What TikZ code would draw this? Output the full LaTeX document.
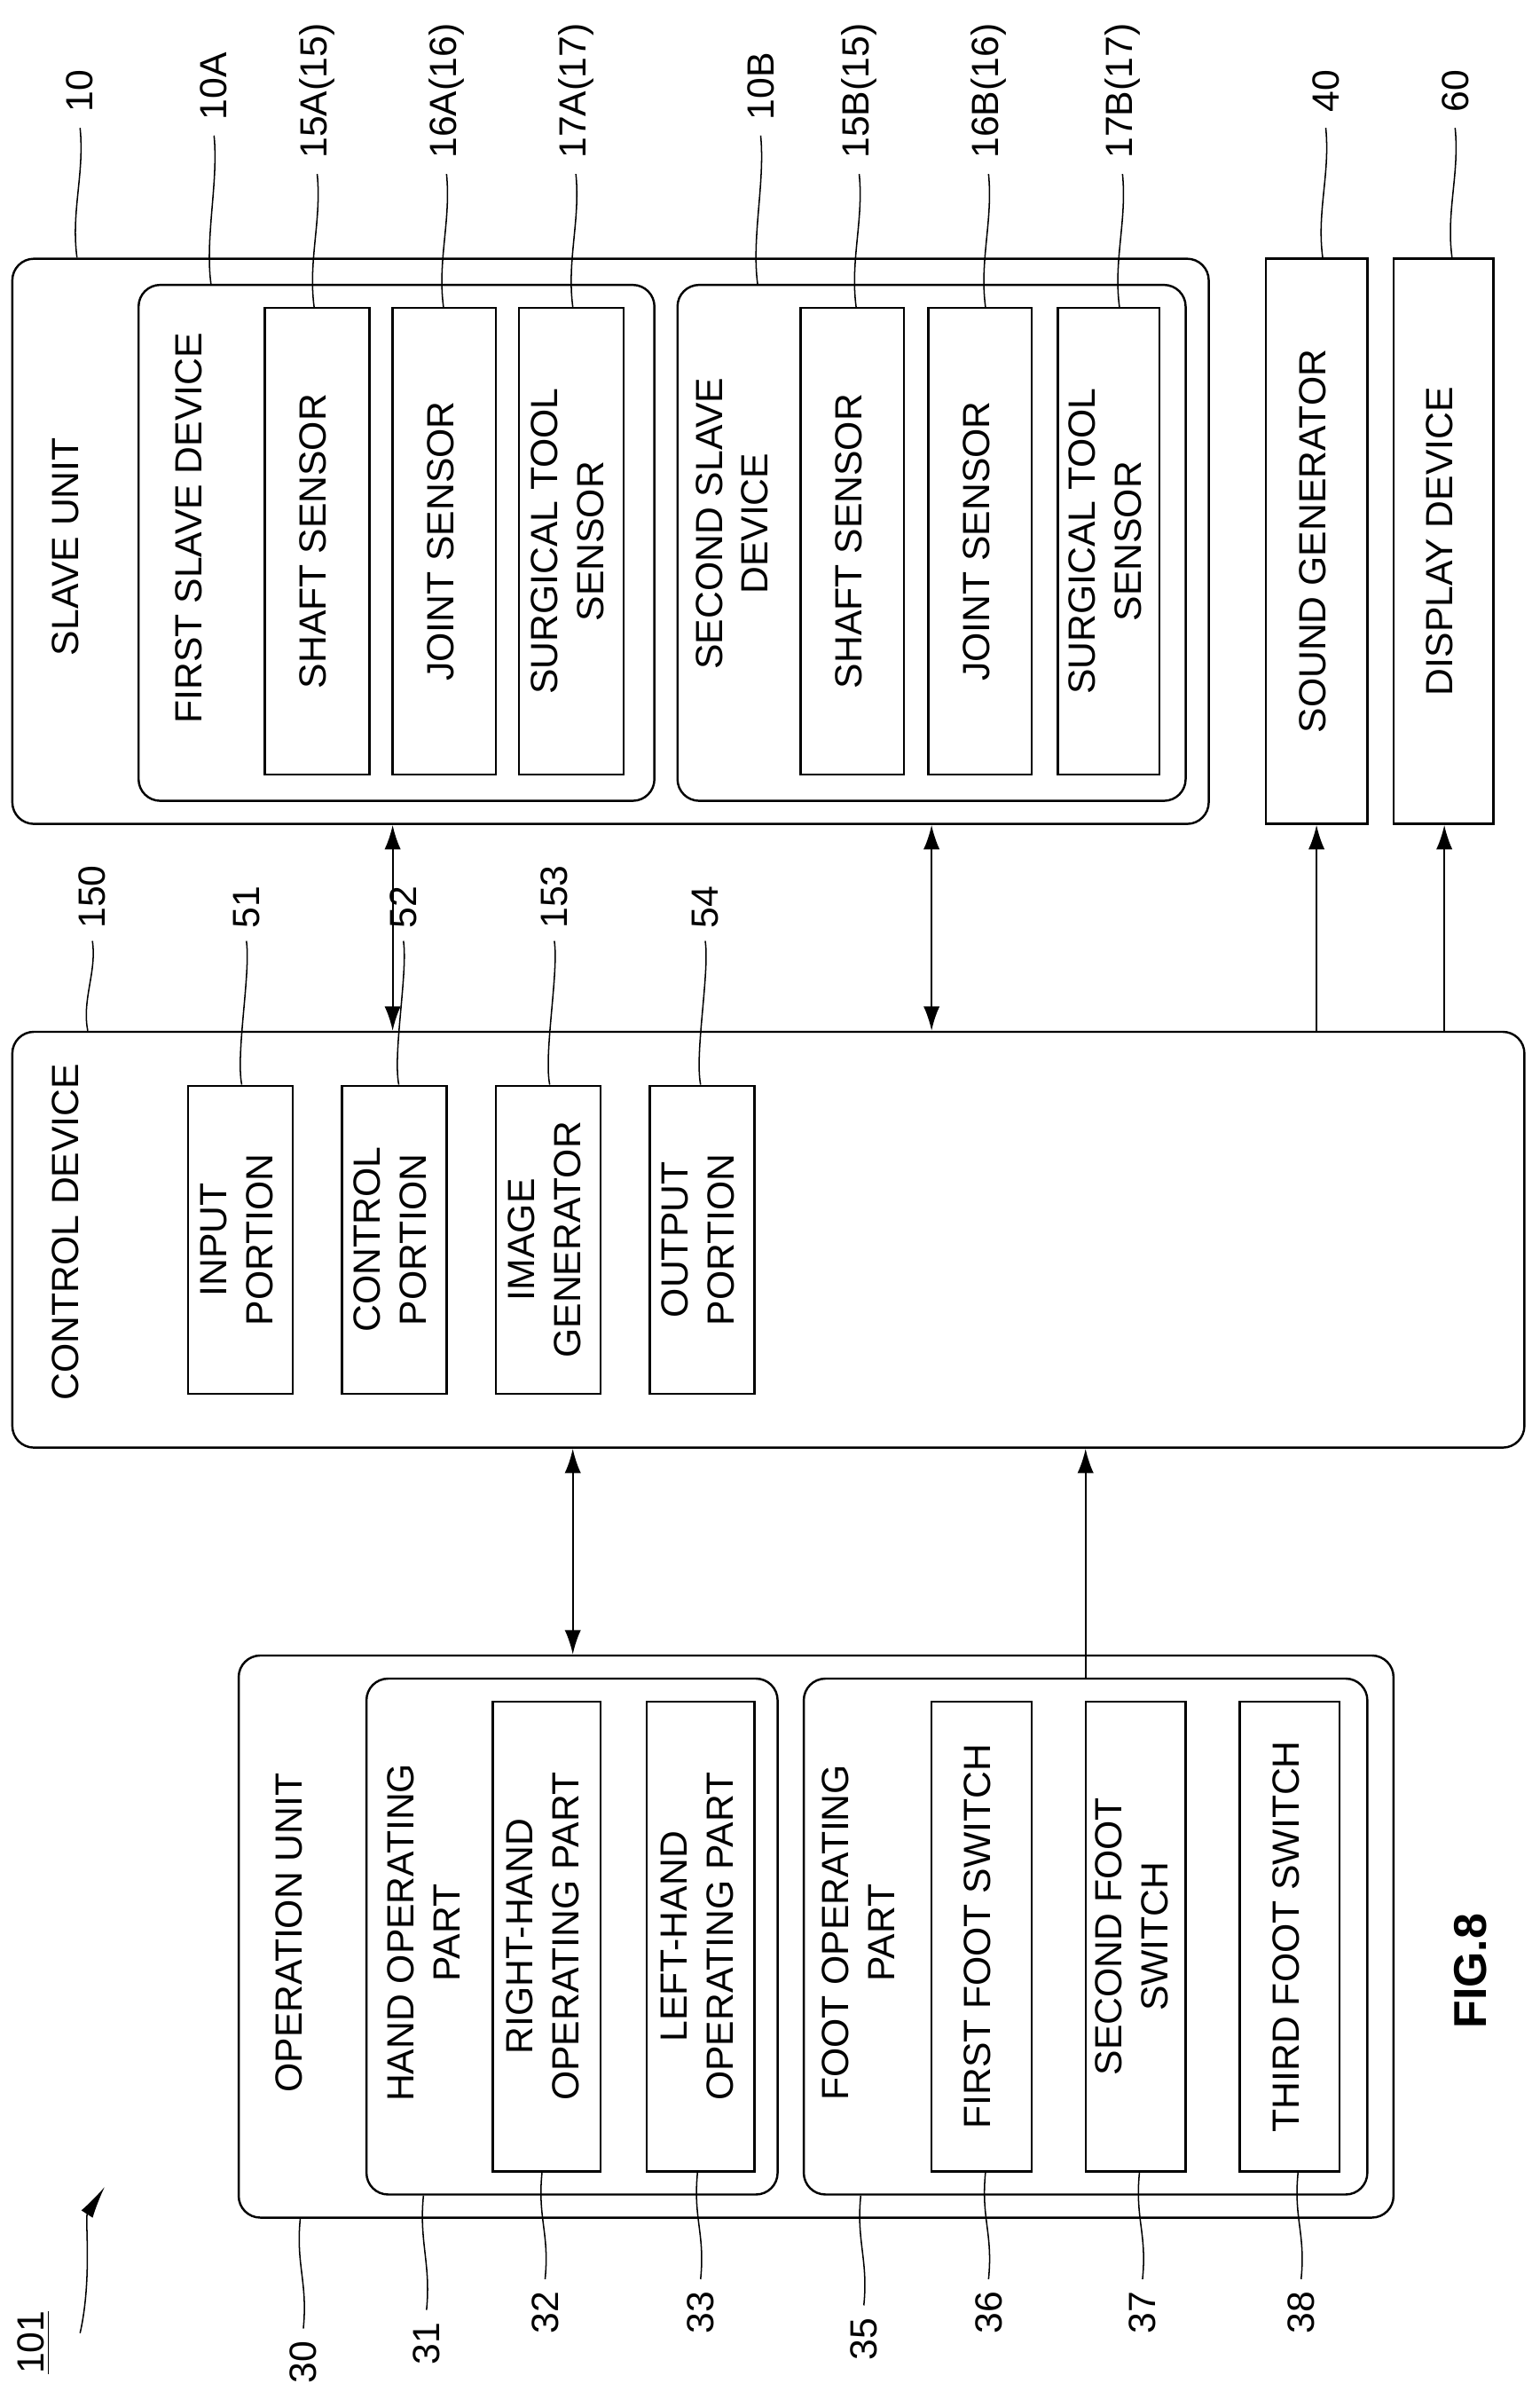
\documentclass[tikz,border=0pt]{standalone}
\usepackage{fontspec}
\setmainfont{Liberation Sans}
\usetikzlibrary{arrows.meta,calc,positioning}

\newcommand\rt[1]{\rotatebox{90}{\begin{tabular}{@{}c@{}}#1\end{tabular}}}
\def\bx[#1]#2(#3,#4,#5,#6)#7;{\node[#1,minimum width={(#5-#3)*0.02cm},minimum height={(#6-#4)*0.02cm}] (#2) at ({(#3+#5)/2},{(#4+#6)/2}) {#7};}

\begin{document}
\begin{tikzpicture}[x=0.02cm,y=-0.02cm,
	box/.style={draw, line width=0.8pt, inner sep=0pt, font=\fontsize{14}{17}\selectfont},
	outer/.style={box, rounded corners=8pt},
	txt/.style={font=\fontsize{14}{17}\selectfont, inner sep=0pt},
	lbl/.style={rotate=90, font=\fontsize{14}{17}\selectfont, inner sep=1pt},
	lead/.style={line width=0.5pt},
	arr/.style={line width=0.7pt, -{Latex[length=9pt,width=6pt]}},
	darr/.style={line width=0.7pt, {Latex[length=9pt,width=6pt]}-{Latex[length=9pt,width=6pt]}}
	]
	\useasboundingbox (0,0) rectangle (1000,1563);
	
	% slave unit
	\bx[outer]{su}(8,168,785,535) {};
	\node[txt] at (45,355) {\rt{SLAVE UNIT}};
	\bx[outer]{sa}(90,185,425,520) {};
	\node[txt] at (125,343) {\rt{FIRST SLAVE DEVICE}};
	\bx[box]{shA}(172,200,240,503) {\rt{SHAFT SENSOR}};
	\bx[box]{jsA}(255,200,322,503) {\rt{JOINT SENSOR}};
	\bx[box]{stA}(337,200,405,503) {\rt{SURGICAL TOOL\\SENSOR}};
	\bx[outer]{sb}(440,185,770,520) {};
	\node[txt] at (478,340) {\rt{SECOND SLAVE\\DEVICE}};
	\bx[box]{shB}(520,200,587,503) {\rt{SHAFT SENSOR}};
	\bx[box]{jsB}(603,200,670,503) {\rt{JOINT SENSOR}};
	\bx[box]{stB}(687,200,753,503) {\rt{SURGICAL TOOL\\SENSOR}};
	\bx[box]{snd}(822,168,888,535) {\rt{SOUND GENERATOR}};
	\bx[box]{dsp}(905,168,970,535) {\rt{DISPLAY DEVICE}};
	
	% control device
	\bx[outer]{ctl}(8,670,990,940) {};
	\node[txt] at (45,800) {\rt{CONTROL DEVICE}};
	\bx[box]{inp}(122,705,190,905) {\rt{INPUT\\PORTION}};
	\bx[box]{cp}(222,705,290,905) {\rt{CONTROL\\PORTION}};
	\bx[box]{img}(322,705,390,905) {\rt{IMAGE\\GENERATOR}};
	\bx[box]{outp}(422,705,490,905) {\rt{OUTPUT\\PORTION}};
	
	% operation unit
	\bx[outer]{opu}(155,1075,905,1440) {};
	\node[txt] at (190,1255) {\rt{OPERATION UNIT}};
	\bx[outer]{hop}(238,1090,505,1425) {};
	\node[txt] at (278,1255) {\rt{HAND OPERATING\\PART}};
	\bx[box]{rh}(320,1105,390,1410) {\rt{RIGHT-HAND\\OPERATING PART}};
	\bx[box]{lh}(420,1105,490,1410) {\rt{LEFT-HAND\\OPERATING PART}};
	\bx[outer]{fop}(522,1090,888,1425) {};
	\node[txt] at (560,1255) {\rt{FOOT OPERATING\\PART}};
	\bx[box]{fs1}(605,1105,670,1410) {\rt{FIRST FOOT SWITCH}};
	\bx[box]{fs2}(705,1105,770,1410) {\rt{SECOND FOOT\\SWITCH}};
	\bx[box]{fs3}(805,1105,870,1410) {\rt{THIRD FOOT SWITCH}};
	
	% connectors
	\coordinate (a1) at (255,0);
	\coordinate (a2) at (605,0);
	\coordinate (a3) at (855,0);
	\coordinate (a4) at (938,0);
	\coordinate (a5) at (372,0);
	\coordinate (a6) at (705,0);
	\draw[darr] (su.south-|a1) -- (ctl.north-|a1);
	\draw[darr] (su.south-|a2) -- (ctl.north-|a2);
	\draw[arr] (ctl.north-|a3) -- (snd.south-|a3);
	\draw[arr] (ctl.north-|a4) -- (dsp.south-|a4);
	\draw[darr] (opu.north-|a5) -- (ctl.south-|a5);
	\draw[arr] (fop.north-|a6) -- (ctl.south-|a6);
	
	% reference labels, top
	\foreach \n/\t/\x/\y/\b in {l10/10/52/75/su, l10A/10A/139/80/sa, l15A/15A(15)/206/105/shA, l16A/16A(16)/290/105/jsA,
		l17A/17A(17)/374/105/stA, l10B/10B/494/80/sb, l15B/15B(15)/558/105/shB, l16B/16B(16)/642/105/jsB,
		l17B/17B(17)/729/105/stB, l40/40/861/75/snd, l60/60/945/75/dsp}{
		\node[lbl, anchor=west] (\n) at (\x,\y) {\t};
		\draw[lead] ($(\n.west)+(0,8)$) .. controls +(3,30) and +(-4,-30) .. ($(\n.west |- \b.north)+(-2,0)$);
	}
	% reference labels, middle
	\foreach \n/\t/\x/\b in {l150/150/60/ctl, l51/51/160/inp, l52/52/262/cp, l153/153/360/img, l54/54/458/outp}{
		\node[lbl, anchor=west] (\n) at (\x,605) {\t};
		\draw[lead] ($(\n.west)+(0,6)$) .. controls +(3,20) and +(-4,-20) .. ($(\n.west |- \b.north)+(-3,0)$);
	}
	% reference labels, bottom
	\foreach \n/\t/\x/\y/\b in {l30/30/197/1518/opu, l31/31/277/1506/hop, l32/32/354/1486/rh, l33/33/455/1486/lh,
		l35/35/561/1503/fop, l36/36/642/1486/fs1, l37/37/742/1486/fs2, l38/38/845/1486/fs3}{
		\node[lbl, anchor=east] (\n) at (\x,\y) {\t};
		\draw[lead] ($(\n.east)+(0,-6)$) .. controls +(3,-30) and +(-3,30) .. ($(\n.east |- \b.south)+(-2,0)$);
	}
	
	% figure id
	\node[lbl, anchor=center] (l101) at (22,1521) {\underline{101}};
	\draw[lead, -{Latex[length=12pt,width=5pt]}] (52,1515) .. controls (60,1480) and (55,1440) .. (68,1420);
	\node[lbl, font=\fontsize{17}{20}\selectfont\bfseries] (fig) at (955,1280) {FIG.8};
\end{tikzpicture}
\end{document}
